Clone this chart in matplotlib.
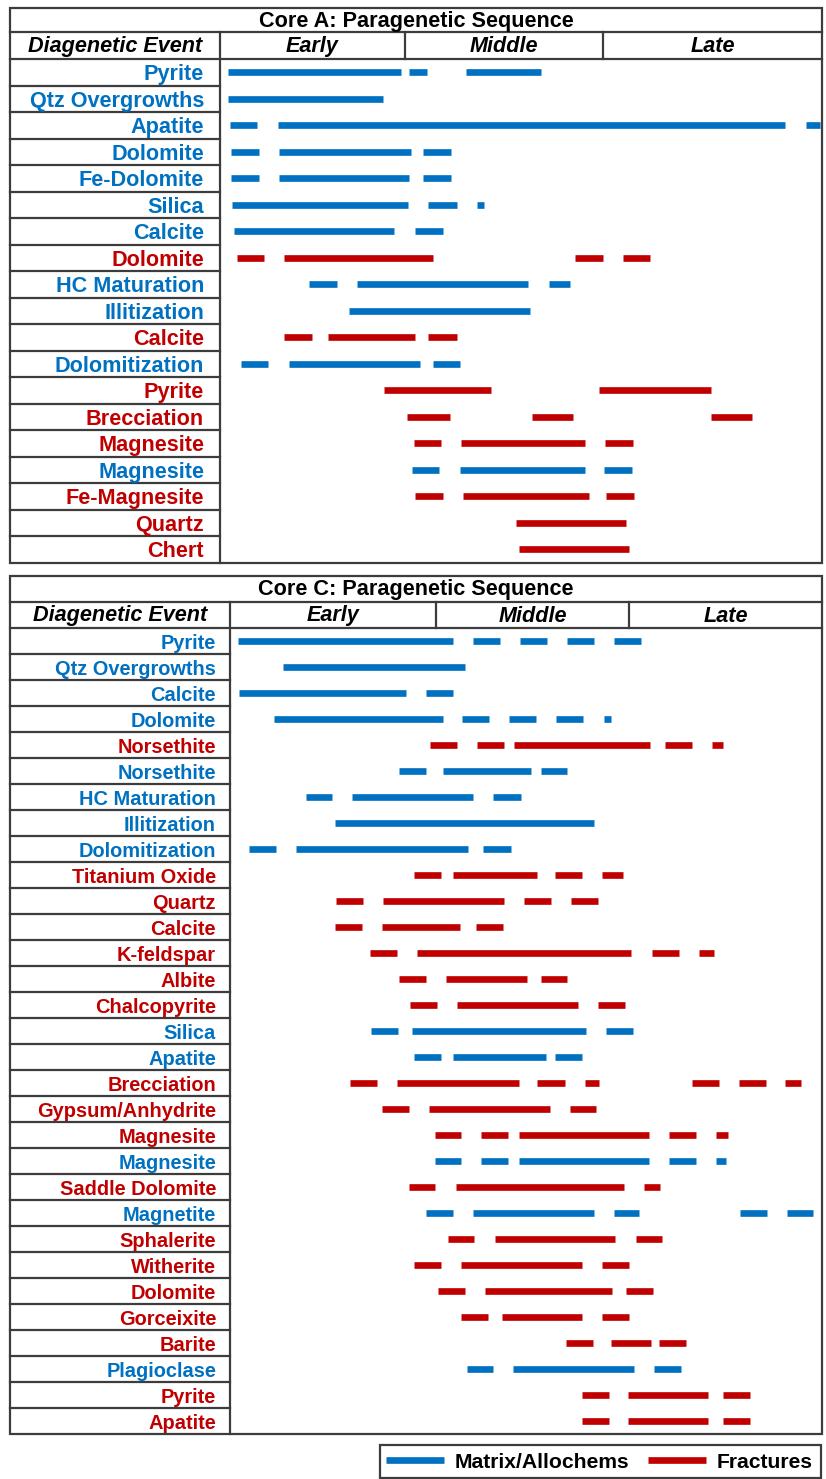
import matplotlib.pyplot as plt
from matplotlib.lines import Line2D
from matplotlib.patches import Rectangle

plt.rcParams['font.family'] = ['Liberation Sans', 'DejaVu Sans']

BLUE = '#0070C0'
RED = '#C00000'
EDGE = '#3c3c3c'
W, H = 826, 1479

# m = matrix/allochems, f = fractures ; spans in % of the Early..Late panel
core_a_events = ['Pyrite', 'Qtz Overgrowths', 'Apatite', 'Dolomite', 'Fe-Dolomite', 'Silica',
                 'Calcite', 'Dolomite', 'HC Maturation', 'Illitization', 'Calcite',
                 'Dolomitization', 'Pyrite', 'Brecciation', 'Magnesite', 'Magnesite',
                 'Fe-Magnesite', 'Quartz', 'Chert']
core_a_kind = ['m', 'm', 'm', 'm', 'm', 'm', 'm', 'f', 'm', 'm', 'f', 'm', 'f', 'f', 'f', 'm',
               'f', 'f', 'f']
core_a_spans = [
    [(1.3, 30.1), (31.4, 34.4), (40.8, 53.3)],
    [(1.3, 27.0)],
    [(1.7, 6.2), (9.6, 93.8), (97.3, 99.6)],
    [(1.9, 6.4), (9.8, 31.7), (33.7, 38.3)],
    [(1.9, 6.4), (9.8, 31.4), (33.7, 38.3)],
    [(2.0, 31.2), (34.6, 39.3), (42.7, 43.9)],
    [(2.3, 28.9), (32.4, 37.0)],
    [(2.8, 7.3), (10.7, 35.4), (59.0, 63.6), (67.0, 71.5)],
    [(14.8, 19.5), (22.8, 51.2), (54.7, 58.1)],
    [(21.5, 51.5)],
    [(10.7, 15.3), (18.0, 32.4), (34.6, 39.3)],
    [(3.5, 8.0), (11.4, 33.3), (35.3, 39.9)],
    [(27.2, 45.0), (62.9, 81.6)],
    [(31.0, 38.2), (51.8, 58.6), (81.6, 88.4)],
    [(32.2, 36.7), (40.0, 60.6), (64.0, 68.6)],
    [(31.9, 36.4), (39.9, 60.6), (63.8, 68.4)],
    [(32.4, 37.0), (40.4, 61.3), (64.2, 68.8)],
    [(49.2, 67.5)],
    [(49.7, 68.0)],
]

core_c_events = ['Pyrite', 'Qtz Overgrowths', 'Calcite', 'Dolomite', 'Norsethite', 'Norsethite',
                 'HC Maturation', 'Illitization', 'Dolomitization', 'Titanium Oxide', 'Quartz',
                 'Calcite', 'K-feldspar', 'Albite', 'Chalcopyrite', 'Silica', 'Apatite',
                 'Brecciation', 'Gypsum/Anhydrite', 'Magnesite', 'Magnesite', 'Saddle Dolomite',
                 'Magnetite', 'Sphalerite', 'Witherite', 'Dolomite', 'Gorceixite', 'Barite',
                 'Plagioclase', 'Pyrite', 'Apatite']
core_c_kind = ['m', 'm', 'm', 'm', 'f', 'm', 'm', 'm', 'm', 'f', 'f', 'f', 'f', 'f', 'f', 'm',
               'm', 'f', 'f', 'f', 'm', 'f', 'm', 'f', 'f', 'f', 'f', 'f', 'm', 'f', 'f']
core_c_spans = [
    [(1.4, 37.7), (41.1, 45.6), (49.0, 53.5), (56.9, 61.5), (64.9, 69.5)],
    [(8.9, 39.7)],
    [(1.5, 29.8), (33.1, 37.7)],
    [(7.5, 35.9), (39.2, 43.7), (47.1, 51.7), (55.1, 59.7), (63.2, 64.4)],
    [(33.8, 38.3), (41.7, 46.2), (47.9, 70.9), (73.5, 78.0), (81.5, 83.3)],
    [(28.6, 33.1), (35.9, 50.9), (52.5, 56.9)],
    [(12.8, 17.3), (20.6, 41.1), (44.5, 49.1)],
    [(17.8, 61.5)],
    [(3.2, 7.8), (11.2, 40.2), (42.8, 47.4)],
    [(31.1, 35.6), (37.7, 51.8), (54.9, 59.5), (62.9, 66.4)],
    [(17.9, 22.5), (25.9, 46.3), (49.7, 54.2), (57.6, 62.2)],
    [(17.8, 22.3), (25.7, 38.9), (41.6, 46.1)],
    [(23.6, 28.2), (31.6, 67.8), (71.2, 75.8), (79.2, 81.8)],
    [(28.6, 33.1), (36.5, 50.1), (52.5, 56.9)],
    [(30.4, 34.9), (38.4, 58.8), (62.1, 66.7)],
    [(23.9, 28.4), (30.8, 60.1), (63.5, 68.1)],
    [(31.1, 35.6), (37.7, 53.3), (54.9, 59.5)],
    [(20.2, 24.8), (28.2, 48.8), (51.9, 56.6), (59.9, 62.3), (78.0, 82.6), (85.9, 90.5),
     (93.8, 96.5)],
    [(25.7, 30.2), (33.6, 54.0), (57.4, 61.9)],
    [(34.6, 39.1), (42.4, 46.9), (48.8, 70.7), (74.2, 78.7), (82.1, 84.1)],
    [(34.6, 39.1), (42.4, 46.9), (48.8, 70.7), (74.2, 78.7), (82.1, 83.8)],
    [(30.2, 34.7), (38.1, 66.5), (69.9, 72.7)],
    [(33.1, 37.7), (41.1, 61.5), (64.9, 69.1), (86.2, 90.7), (94.1, 98.5)],
    [(36.8, 41.3), (44.7, 65.1), (68.5, 73.0)],
    [(31.1, 35.6), (39.0, 59.5), (62.9, 67.4)],
    [(35.2, 39.7), (43.1, 64.5), (66.9, 71.5)],
    [(39.0, 43.6), (45.9, 59.5), (62.9, 67.4)],
    [(56.7, 61.3), (64.4, 71.1), (72.5, 77.1)],
    [(40.0, 44.5), (47.8, 68.3), (71.6, 76.2)],
    [(59.5, 64.0), (67.3, 80.7), (83.2, 87.8)],
    [(59.5, 64.0), (67.3, 80.7), (83.2, 87.8)],
]

stages = ['Early', 'Middle', 'Late']
legend_names = ['Matrix/Allochems', 'Fractures']
colors = {'m': BLUE, 'f': RED}

fig = plt.figure(figsize=(W / 100, H / 100), dpi=100)

# overlay axes in pixel units for the table frame
ov = fig.add_axes([0, 0, 1, 1])
ov.set_xlim(0, W)
ov.set_ylim(H, 0)
ov.axis('off')


def px_axes(x0, y0, x1, y1):
    return fig.add_axes([x0 / W, 1 - y1 / H, (x1 - x0) / W, (y1 - y0) / H])


def draw_core(title, events, kinds, spans, box, col_x, dividers, title_bot, head_bot,
              lab_size, lab_pad):
    left, top, right, bottom = box
    n = len(events)
    lw = 1.6
    ov.add_patch(Rectangle((left, top), right - left, bottom - top, fill=False,
                           ec=EDGE, lw=lw))
    ov.plot([left, right], [title_bot, title_bot], color=EDGE, lw=lw)
    ov.plot([left, right], [head_bot, head_bot], color=EDGE, lw=lw)
    ov.plot([col_x, col_x], [title_bot, bottom], color=EDGE, lw=lw)
    for d in dividers:
        ov.plot([d, d], [title_bot, head_bot], color=EDGE, lw=lw)
    row_h = (bottom - head_bot) / n
    for k in range(1, n):
        yy = head_bot + k * row_h
        ov.plot([left, col_x], [yy, yy], color=EDGE, lw=lw)

    hfont = dict(fontsize=15.6, fontweight='bold', ha='center', va='center')
    ov.text((left + right) / 2, (top + title_bot) / 2 + 1, title, **hfont)
    ov.text((left + col_x) / 2, (title_bot + head_bot) / 2 + 1, 'Diagenetic Event',
            style='italic', **hfont)
    edges = [col_x] + dividers + [right]
    for s, a, b in zip(stages, edges[:-1], edges[1:]):
        ov.text((a + b) / 2, (title_bot + head_bot) / 2 + 1, s, style='italic', **hfont)

    ax = px_axes(col_x, head_bot, right, bottom)
    ax.patch.set_alpha(0)
    ax.set_xlim(0, 100)
    ax.set_ylim(n - 0.5, -0.5)
    for sp in ax.spines.values():
        sp.set_visible(False)
    ax.set_xticks([])
    ax.set_yticks(range(n))
    ax.set_yticklabels(events, fontsize=lab_size, fontweight='bold')
    for lbl, k in zip(ax.get_yticklabels(), kinds):
        lbl.set_color(colors[k])
    ax.tick_params(axis='y', length=0, pad=lab_pad)
    for i, (segs, k) in enumerate(zip(spans, kinds)):
        lc = ax.hlines([i] * len(segs), [s[0] for s in segs], [s[1] for s in segs],
                       color=colors[k], linewidth=4.8)
        lc.set_capstyle('butt')


draw_core('Core A: Paragenetic Sequence', core_a_events, core_a_kind, core_a_spans,
          (10, 8, 822, 562.5), 220, [405, 603], 32, 59, 15.6, 11.5)
draw_core('Core C: Paragenetic Sequence', core_c_events, core_c_kind, core_c_spans,
          (10, 576, 822, 1434.3), 230, [436, 629], 601.7, 628.3, 14.4, 10)

# legend box
ov.add_patch(Rectangle((380, 1445), 441, 33, fill=False, ec=EDGE, lw=1.6))
handles = [Line2D([], [], color=BLUE, lw=4.8, solid_capstyle='butt'),
           Line2D([], [], color=RED, lw=4.8, solid_capstyle='butt')]
leg = fig.legend(handles, legend_names, loc='center left', ncol=2,
                 bbox_to_anchor=(380 / W, 1 - 1462 / H), borderaxespad=0,
                 prop={'weight': 'bold', 'size': 15.2}, frameon=False,
                 handlelength=2.75, handletextpad=0.5, columnspacing=0.85, borderpad=0.3)

fig.savefig('out.png', dpi=100)
